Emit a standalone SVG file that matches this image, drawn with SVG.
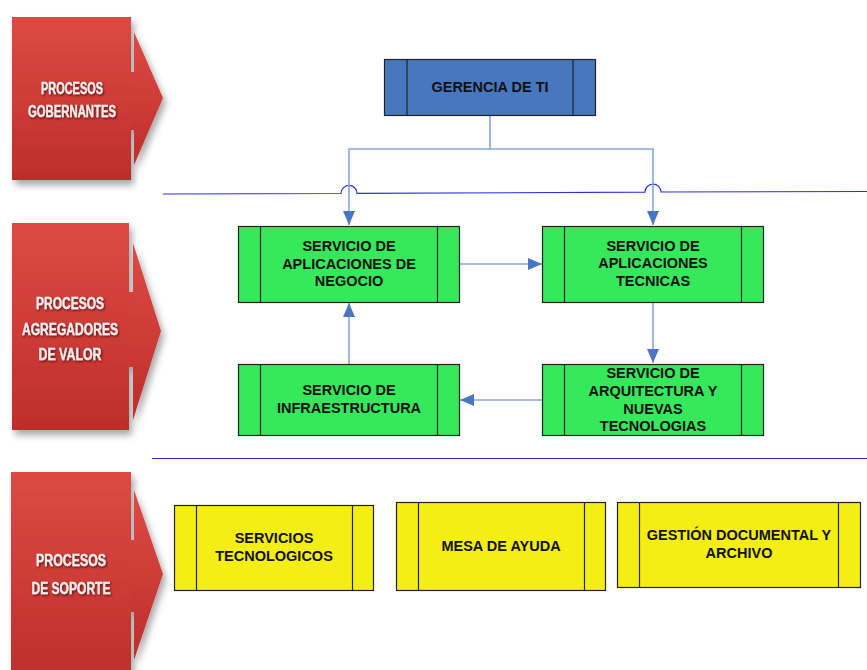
<svg xmlns="http://www.w3.org/2000/svg" width="867" height="670" viewBox="0 0 867 670">
  <defs>
    <linearGradient id="redFill" x1="0" y1="0" x2="0" y2="1">
      <stop offset="0" stop-color="#dc4a44"/>
      <stop offset="0.5" stop-color="#cf3c37"/>
      <stop offset="1" stop-color="#bc2e2b"/>
    </linearGradient>
    <filter id="softShadow" x="-20%" y="-20%" width="150%" height="150%">
      <feDropShadow dx="3" dy="5" stdDeviation="3.5" flood-color="#000" flood-opacity="0.35"/>
    </filter>
    <filter id="textShadow" x="-10%" y="-30%" width="120%" height="170%">
      <feDropShadow dx="1" dy="1.2" stdDeviation="0.9" flood-color="#4a0a0a" flood-opacity="0.9"/>
    </filter>
    <marker id="arrow" viewBox="0 0 14 12" refX="14" refY="6" markerWidth="14" markerHeight="12" markerUnits="userSpaceOnUse" orient="auto">
      <path d="M0,0 L14,6 L0,12 Z" fill="#4a76c4"/>
    </marker>
  </defs>
  <style>
    .band rect, .band path { fill: url(#redFill); }
    .bandLabel { font-family: "Liberation Sans", Arial, sans-serif; font-weight: bold; font-size: 16px; fill: #f6ecec; stroke: #f6ecec; stroke-width: 0.3; text-anchor: middle; }
    .box { stroke: #222; stroke-width: 1.2; }
    .bar { stroke: #222; stroke-width: 1.2; fill: none; }
    .blue { fill: #4677bf; }
    .green { fill: #35e85c; }
    .yellow { fill: #f5ee12; }
    .label { font-family: "Liberation Sans", Arial, sans-serif; font-weight: bold; font-size: 14.5px; fill: #111; text-anchor: middle; }
    .conn { fill: none; stroke: #86a6dc; stroke-width: 1.6; }
    .sep { fill: none; stroke: #2b2fe0; stroke-width: 1.2; }
  </style>

  <rect width="867" height="670" fill="#fff"/>

  <!-- process bands on the left -->
  <g id="band-gobernantes" class="band" filter="url(#softShadow)">
    <path d="M126,72 H134 V32 L163,98 L134,165 V130 H126 Z"/>
    <rect x="12" y="17" width="119" height="163"/>
    <g filter="url(#textShadow)">
      <text class="bandLabel" x="72" y="93.5" textLength="62" lengthAdjust="spacingAndGlyphs">PROCESOS</text>
      <text class="bandLabel" x="72" y="116.5" textLength="88" lengthAdjust="spacingAndGlyphs">GOBERNANTES</text>
    </g>
  </g>

  <g id="band-agregadores" class="band" filter="url(#softShadow)">
    <path d="M124,292 H133 V243 L161,331 L133,420 V367 H124 Z"/>
    <rect x="12" y="223" width="117" height="207"/>
    <g filter="url(#textShadow)">
      <text class="bandLabel" x="70" y="309" textLength="68" lengthAdjust="spacingAndGlyphs">PROCESOS</text>
      <text class="bandLabel" x="70" y="335" textLength="96" lengthAdjust="spacingAndGlyphs">AGREGADORES</text>
      <text class="bandLabel" x="70" y="359.5" textLength="63" lengthAdjust="spacingAndGlyphs">DE VALOR</text>
    </g>
  </g>

  <g id="band-soporte" class="band" filter="url(#softShadow)">
    <path d="M126,540 H134 V490 L163,574 L134,660 V612 H126 Z"/>
    <rect x="11" y="472" width="120" height="210"/>
    <g filter="url(#textShadow)">
      <text class="bandLabel" x="71" y="566" textLength="70" lengthAdjust="spacingAndGlyphs">PROCESOS</text>
      <text class="bandLabel" x="71" y="594" textLength="79" lengthAdjust="spacingAndGlyphs">DE SOPORTE</text>
    </g>
  </g>

  <!-- connectors and separators -->
  <g id="connectors">
    <path class="sep" d="M163,194 L341,193.5 A8,8 0 0 1 357,193.4 L645,192.2 A8,8 0 0 1 661,192 L867,191.5"/>
    <path class="sep" d="M152,458.5 H867"/>
    <path class="conn" d="M490,116 V149 H349 V225" marker-end="url(#arrow)"/>
    <path class="conn" d="M490,149 H653 V225" marker-end="url(#arrow)"/>
    <path class="conn" d="M459,264 H542" marker-end="url(#arrow)"/>
    <path class="conn" d="M653,302 V363" marker-end="url(#arrow)"/>
    <path class="conn" d="M543,400 H460" marker-end="url(#arrow)"/>
    <path class="conn" d="M349,364 V303" marker-end="url(#arrow)"/>
  </g>

  <!-- management -->
  <g id="gerencia-ti">
    <rect class="box blue" x="384.5" y="59.5" width="211" height="56"/>
    <path class="bar" d="M407,59.5 V115.5 M573,59.5 V115.5"/>
    <text class="label" x="490" y="92">GERENCIA DE TI</text>
  </g>

  <!-- value-adding services -->
  <g id="aplicaciones-negocio">
    <rect class="box green" x="238.5" y="226.5" width="221" height="76"/>
    <path class="bar" d="M260.5,226.5 V302.5 M437.5,226.5 V302.5"/>
    <text class="label" x="349" y="251">SERVICIO DE</text>
    <text class="label" x="349" y="269">APLICACIONES DE</text>
    <text class="label" x="349" y="286">NEGOCIO</text>
  </g>

  <g id="aplicaciones-tecnicas">
    <rect class="box green" x="542.5" y="226.5" width="221" height="76"/>
    <path class="bar" d="M564.5,226.5 V302.5 M741.5,226.5 V302.5"/>
    <text class="label" x="653" y="251">SERVICIO DE</text>
    <text class="label" x="653" y="268">APLICACIONES</text>
    <text class="label" x="653" y="286">TECNICAS</text>
  </g>

  <g id="infraestructura">
    <rect class="box green" x="238.5" y="364.5" width="221" height="71"/>
    <path class="bar" d="M260.5,364.5 V435.5 M437.5,364.5 V435.5"/>
    <text class="label" x="349" y="395">SERVICIO DE</text>
    <text class="label" x="349" y="413">INFRAESTRUCTURA</text>
  </g>

  <g id="arquitectura">
    <rect class="box green" x="542.5" y="364.5" width="221" height="71"/>
    <path class="bar" d="M564.5,364.5 V435.5 M741.5,364.5 V435.5"/>
    <text class="label" x="653" y="378">SERVICIO DE</text>
    <text class="label" x="653" y="396">ARQUITECTURA Y</text>
    <text class="label" x="653" y="413.5">NUEVAS</text>
    <text class="label" x="653" y="431">TECNOLOGIAS</text>
  </g>

  <!-- support services -->
  <g id="servicios-tecnologicos">
    <rect class="box yellow" x="174.5" y="505.5" width="199" height="85"/>
    <path class="bar" d="M196.5,505.5 V590.5 M352.5,505.5 V590.5"/>
    <text class="label" x="274" y="543">SERVICIOS</text>
    <text class="label" x="274" y="561">TECNOLOGICOS</text>
  </g>

  <g id="mesa-ayuda">
    <rect class="box yellow" x="396.5" y="502.5" width="209" height="88"/>
    <path class="bar" d="M418.5,502.5 V590.5 M584.5,502.5 V590.5"/>
    <text class="label" x="501" y="551">MESA DE AYUDA</text>
  </g>

  <g id="gestion-documental">
    <rect class="box yellow" x="617.5" y="502.5" width="243" height="85"/>
    <path class="bar" d="M639.5,502.5 V587.5 M838.5,502.5 V587.5"/>
    <text class="label" x="739" y="540">GESTIÓN DOCUMENTAL Y</text>
    <text class="label" x="739" y="558">ARCHIVO</text>
  </g>
</svg>
